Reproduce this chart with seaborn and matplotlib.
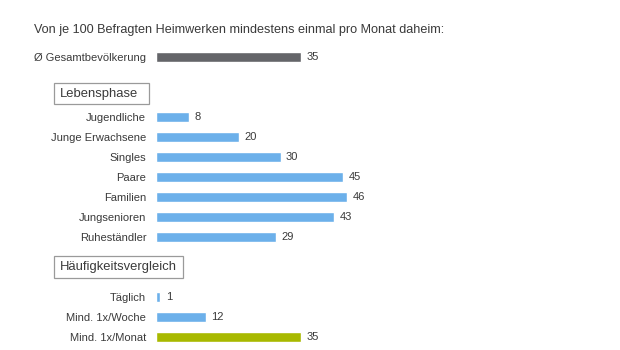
import matplotlib
matplotlib.use("Agg")
import matplotlib.pyplot as plt
from matplotlib.patches import Rectangle
import seaborn as sns
import pandas as pd

# Data
title = "Von je 100 Befragten Heimwerken mindestens einmal pro Monat daheim:"

total_label = ["Ø Gesamtbevölkerung"]
total_value = [35]

life_labels = ["Jugendliche", "Junge Erwachsene", "Singles", "Paare",
               "Familien", "Jungsenioren", "Ruheständler"]
life_values = [8, 20, 30, 45, 46, 43, 29]

freq_labels = ["Täglich", "Mind. 1x/Woche", "Mind. 1x/Monat"]
freq_values = [1, 12, 35]

GRAY = "#646569"
BLUE = "#6cb0ea"
GREEN = "#a8b900"
TEXT = "#3a3a3a"

sns.set_theme(style="white")
plt.rcParams["font.family"] = ["Liberation Sans", "DejaVu Sans"]

W, H = 620, 350
fig = plt.figure(figsize=(W / 100, H / 100), dpi=100)

X0 = 156        # pixel where the value axis starts
PX_PER = 4.15   # pixels per unit
XMAX = 50


def px_axes(top, n_rows, row_h=20):
    # axes placed in pixel coordinates of the figure
    height = n_rows * row_h
    return fig.add_axes([X0 / W, (H - top - height) / H,
                         PX_PER * XMAX / W, height / H])


def draw(ax, labels, values, colors):
    df = pd.DataFrame({"label": labels, "value": values})
    sns.barplot(data=df, x="value", y="label", hue="label", palette=colors,
                width=0.5, legend=False, ax=ax, saturation=1)
    ax.set_xlim(0, XMAX)
    ax.set_ylim(len(labels) - 0.5, -0.5)
    ax.set_xlabel("")
    ax.set_ylabel("")
    ax.set_xticks([])
    ax.tick_params(axis="y", length=0, pad=7, labelsize=8, labelcolor=TEXT)
    sns.despine(ax=ax, left=True, bottom=True)
    for c in ax.containers:
        ax.bar_label(c, padding=4, fontsize=8, color=TEXT)


ax0 = px_axes(47, 1)
draw(ax0, total_label, total_value, [GRAY])

ax1 = px_axes(107, len(life_labels))
draw(ax1, life_labels, life_values, [BLUE] * len(life_labels))

ax2 = px_axes(287, len(freq_labels))
draw(ax2, freq_labels, freq_values, [BLUE, BLUE, GREEN])

fig.text(34 / W, 1 - 30 / H, title, fontsize=9.1, color=TEXT,
         ha="left", va="center")


def box(x0, y0, x1, y1, text):
    fig.patches.append(Rectangle((x0 / W, 1 - y1 / H), (x1 - x0) / W,
                                 (y1 - y0) / H, transform=fig.transFigure,
                                 fill=False, edgecolor="#9a9a9a", lw=0.9))
    fig.text((x0 + 6) / W, 1 - (y0 + y1) / 2 / H, text, fontsize=9.4,
             color=TEXT, ha="left", va="center")


box(54, 83, 149, 104, "Lebensphase")
box(54, 256, 183, 278, "Häufigkeitsvergleich")

fig.savefig("out.png", dpi=100, facecolor="white")
